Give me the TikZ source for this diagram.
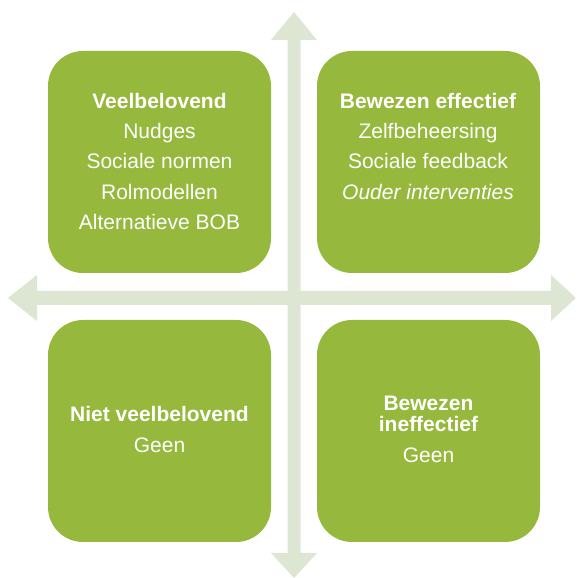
\documentclass[tikz,border=0pt]{standalone}
\usepackage{fontspec}
\setmainfont{Liberation Sans}
\begin{document}
\begin{tikzpicture}[x=1pt,y=1pt,
  quad/.style={fill=boxgreen,draw=none,rounded corners=35pt,minimum width=223pt,minimum height=222pt,inner sep=0pt},
  ln/.style={anchor=base,text=white,font=\fontsize{21}{24}\selectfont,inner sep=0pt},
  hd/.style={ln,font=\fontsize{21}{24}\selectfont\bfseries},
  axisfill/.style={fill=axisgreen,draw=none}]
\definecolor{boxgreen}{HTML}{95B83D}
\definecolor{axisgreen}{HTML}{DDE6D2}
\useasboundingbox (0,0) rectangle (576,578);
% axes
\coordinate (vtop) at (294,566);
\coordinate (vbot) at (294,0);
\coordinate (hleft) at (8,280);
\coordinate (hright) at (576,280);
\fill[axisfill] (vtop) -- ++(23,-28) -- ++(-16.5,0) -- (300.5,25) -- ++(16.5,0) -- (vbot) -- (271,25) -- ++(16.5,0) -- (287.5,538) -- ++(-16.5,0) -- cycle;
\fill[axisfill] (hleft) -- ++(29,23) -- ++(0,-16) -- (551,287) -- ++(0,16) -- (hright) -- (551,257) -- ++(0,16) -- (37,273) -- ++(0,-16) -- cycle;
% boxes
\node[quad] (q1) at (159.5,416) {};
\node[quad] (q2) at (428.5,416) {};
\node[quad] (q3) at (159.5,147) {};
\node[quad] (q4) at (428.5,147) {};
% texts box 1
\node[hd] (t11) at (159.5,469.5) {Veelbelovend};
\node[ln] (t12) at (159.5,439) {Nudges};
\node[ln] (t13) at (159.5,409) {Sociale normen};
\node[ln] (t14) at (159.5,378.5) {Rolmodellen};
\node[ln] (t15) at (159.5,348) {Alternatieve BOB};
% texts box 2
\node[hd] (t21) at (428,469.5) {Bewezen effectief};
\node[ln] (t22) at (428,439) {Zelfbeheersing};
\node[ln] (t23) at (428,409) {Sociale feedback};
\node[ln,font=\fontsize{21}{24}\selectfont\itshape] (t24) at (428,378.5) {Ouder interventies};
% texts box 3
\node[hd] (t31) at (159.5,156) {Niet veelbelovend};
\node[ln] (t32) at (159.5,125) {Geen};
% texts box 4
\node[hd] (t41) at (428.5,167) {Bewezen};
\node[hd] (t42) at (428.5,146) {ineffectief};
\node[ln] (t43) at (428.5,115) {Geen};
\end{tikzpicture}
\end{document}
